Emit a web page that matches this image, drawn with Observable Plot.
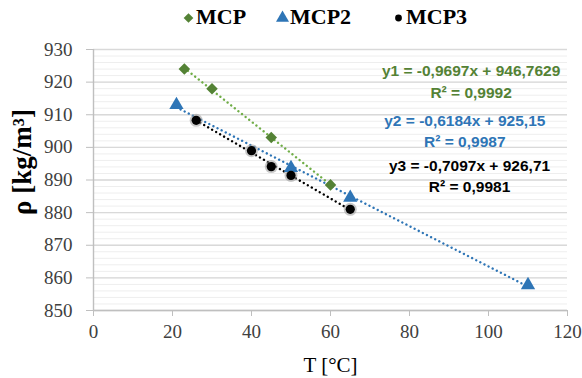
<!DOCTYPE html>
<html>
<head>
<meta charset="utf-8">
<script src="https://cdn.jsdelivr.net/npm/d3@7"></script>
<script src="https://cdn.jsdelivr.net/npm/@observablehq/plot@0.6"></script>
<style>
  html, body { margin: 0; padding: 0; background: #fff; }
  #legend { position: relative; height: 30px; width: 582px; font-family: "Liberation Serif", serif; font-weight: bold; font-size: 22px; color: #000; }
  #legend .item { position: absolute; top: 4px; display: flex; align-items: center; height: 26px; }
  #legend svg { display: block; margin-right: 1px; }
</style>
</head>
<body>
<div id="legend"></div>
<div id="chart"></div>
<script>
// ---- data ----
const seriesNames = ["MCP", "MCP2", "MCP3"];
const seriesColors = ["#548235", "#2E75B6", "#000000"];
const lineColors = ["#70AD47", "#2E75B6", "#000000"];
const seriesSymbols = ["diamond2", "triangle", "circle"];

const mcpT = [23, 30, 45, 60];
const mcpRho = [924, 918, 903, 888.5];
const mcp2T = [21, 50, 65, 110];
const mcp2Rho = [913, 893.7, 884.6, 857.8];
const mcp3T = [26, 40, 45, 50, 65];
const mcp3Rho = [908.3, 899, 894.1, 891.4, 881];

const xTicks = [0, 20, 40, 60, 80, 100, 120];
const yTicks = [850, 860, 870, 880, 890, 900, 910, 920, 930];
const yMinor = d3.range(850, 931, 2);

const eqText = ["y1 = -0,9697x + 946,7629", "R² = 0,9992", "y2 = -0,6184x + 925,15", "R² = 0,9987", "y3 = -0,7097x + 926,71", "R² = 0,9981"];
const eqX = [95.6, 95.6, 94, 94, 95.2, 95.2];
const eqY = [923.3, 916.8, 908.2, 901.5, 894.4, 887.7];
const eqSeries = [0, 0, 1, 1, 2, 2];

const xLabel = "T [°C]";
const yLabel = "ρ [kg/m³]";

// ---- build tables ----
const allT = [mcpT, mcp2T, mcp3T];
const allRho = [mcpRho, mcp2Rho, mcp3Rho];
const series = seriesNames.map((name, i) => allT[i].map((t, j) => ({series: name, T: t, rho: allRho[i][j]})));
const eqs = eqText.map((t, i) => ({text: t, x: eqX[i], y: eqY[i], color: seriesColors[eqSeries[i]]}));

const marks = [
  Plot.ruleY(yMinor, {stroke: "#eeeeee", strokeWidth: 1}),
  Plot.ruleY(yTicks, {stroke: "#d9d9d9", strokeWidth: 1.4}),
  Plot.ruleX([0], {stroke: "#bfbfbf", strokeWidth: 1.4}),
  Plot.ruleY([850], {stroke: "#bfbfbf", strokeWidth: 1.4}),
  Plot.axisX({ticks: xTicks, tickSize: 6, tickPadding: 8, stroke: "#bfbfbf", tickFormat: d => String(d), label: null}),
  Plot.axisY({ticks: yTicks, tickSize: 7, tickPadding: 14, stroke: "#bfbfbf", tickFormat: d => String(d), label: null}),
];
series.forEach((s, i) => {
  marks.push(Plot.linearRegressionY(s, {x: "T", y: "rho", stroke: lineColors[i], ci: 0, strokeWidth: 2.4, strokeDasharray: "0.01 4.6", strokeLinecap: "round"}));
});
// halo for MCP3 markers
marks.push(Plot.dot(series[2], {x: "T", y: "rho", r: 6.5, fill: "#9a9a9a", fillOpacity: 0.55, stroke: "none"}));
series.forEach((s, i) => {
  marks.push(Plot.dot(s, {x: "T", y: "rho", symbol: () => seriesSymbols[i], r: i === 1 ? 5.3 : (i === 0 ? 5.2 : 4.6), fill: seriesColors[i], stroke: "none"}));
});
marks.push(Plot.text(eqs, {x: "x", y: "y", text: "text", fill: "color", fontFamily: "Liberation Sans", fontWeight: "bold", fontSize: 15.5, textAnchor: "middle", lineAnchor: "middle"}));
marks.push(Plot.text([xLabel], {frameAnchor: "bottom", dy: 55, text: d => d, fontSize: 21, fill: "#000", lineAnchor: "middle", fontFamily: "Liberation Serif"}));
marks.push(Plot.text([yLabel], {frameAnchor: "left", dx: -71, dy: -18, rotate: -90, text: d => d, fontSize: 27, fontWeight: "bold", fill: "#000", lineAnchor: "middle", textAnchor: "middle", fontFamily: "Liberation Serif"}));

const chart = Plot.plot({
  width: 582,
  height: 348,
  marginLeft: 93,
  marginRight: 15,
  marginTop: 19,
  marginBottom: 68,
  x: {domain: [0, 120]},
  y: {domain: [850, 930]},
  style: {fontFamily: "Liberation Serif", fontSize: "19px", color: "#404040", background: "#fff"},
  marks
});
document.getElementById("chart").appendChild(chart);

// ---- legend ----
const legendLeft = [182, 276, 392];
const legend = d3.select("#legend");
seriesNames.forEach((name, i) => {
  const item = legend.append("div").attr("class", "item").style("left", legendLeft[i] + "px");
  const svg = item.append("svg").attr("width", 13).attr("height", 14);
  const sym = [d3.symbolDiamond2, d3.symbolTriangle, d3.symbolCircle][i];
  const size = [60, 75, 36][i];
  svg.append("path").attr("transform", "translate(6.5,8)").attr("d", d3.symbol(sym, size)()).attr("fill", seriesColors[i]);
  item.append("span").text(name);
});
</script>
</body>
</html>
